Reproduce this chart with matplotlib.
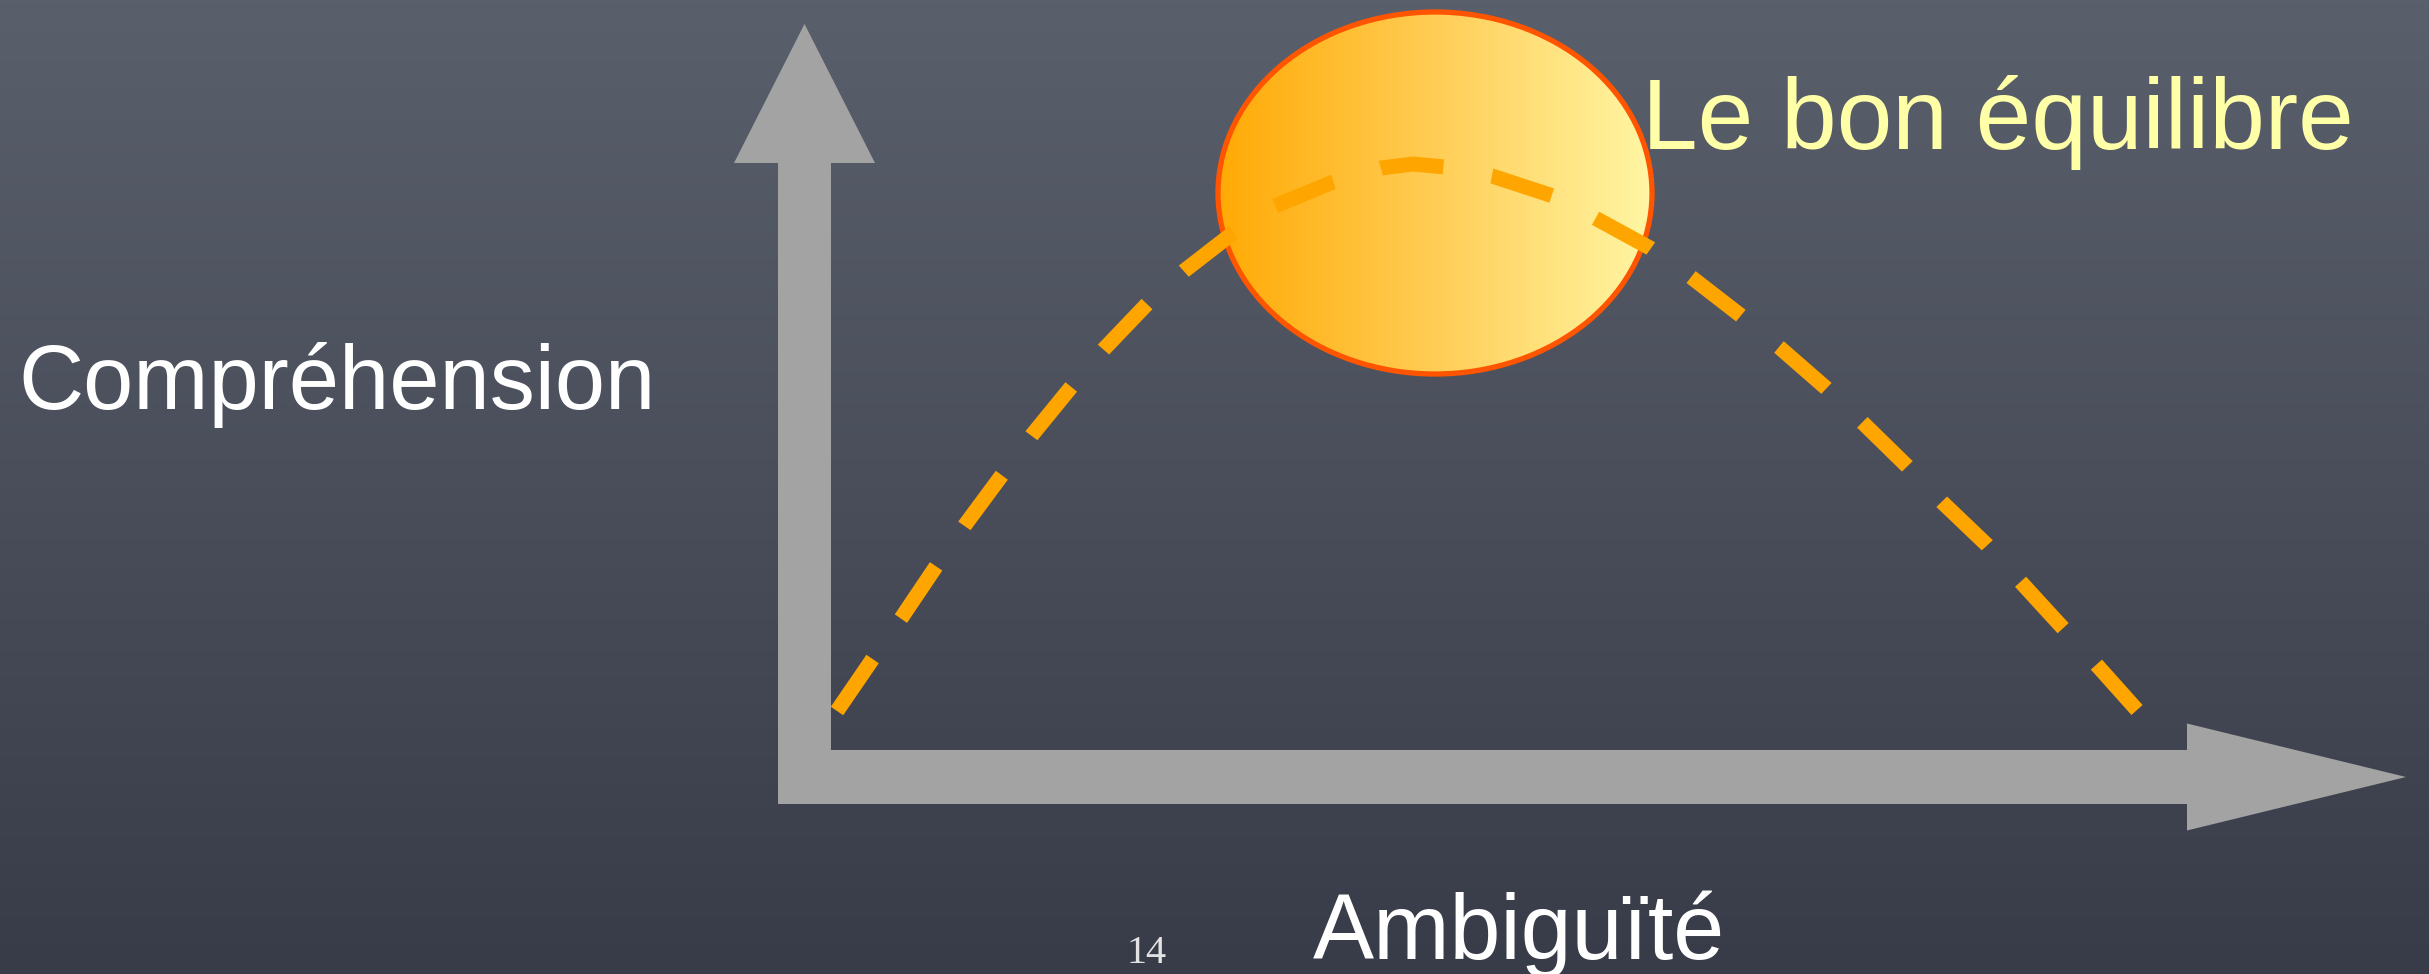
import numpy as np
import matplotlib
matplotlib.use('Agg')
import matplotlib.pyplot as plt
from matplotlib.patches import FancyArrow, Ellipse
from matplotlib.colors import LinearSegmentedColormap

# dashed curve (pixel coords, y down)
curve_x = [837, 874, 902, 937, 965, 1002, 1032, 1072, 1104, 1148, 1184, 1233,
           1275, 1333, 1381, 1413, 1445, 1492, 1553, 1595, 1650, 1691, 1740,
           1779, 1826, 1862, 1907, 1942, 1987, 2040, 2095, 2137]
curve_y = [711, 657, 617, 565, 525, 475, 435, 386, 349, 303, 271, 233,
           206, 182, 168, 164, 167, 176, 196, 218, 248, 277, 315,
           347, 388, 422, 466, 502, 545, 603, 663, 710]

# "sweet spot" ellipse
spot_center = (1435, 193)
spot_size = (434, 362)

labels = {
    'y': 'Compréhension',
    'x': 'Ambiguïté',
    'spot': 'Le bon équilibre',
    'page': '14',
}

W, H = 2429, 974
fig = plt.figure(figsize=(W / 100, H / 100), dpi=100)
ax = fig.add_axes([0, 0, 1, 1])
ax.set_xlim(0, W)
ax.set_ylim(H, 0)
ax.axis('off')

# chalkboard background
bg = LinearSegmentedColormap.from_list('bg', ['#5a5f6c', '#4a4e5b', '#383c48'])
ax.imshow(np.linspace(0, 1, 256).reshape(-1, 1), cmap=bg, aspect='auto',
          extent=(0, W, H, 0), zorder=0)

# axes arrows
grey = '#a3a3a3'
ax.add_patch(FancyArrow(804.5, 803, 0, 24 - 803, width=53, head_width=141,
                        head_length=139, length_includes_head=True,
                        color=grey, lw=0, zorder=2))
ax.add_patch(FancyArrow(778, 777, 2406 - 778, 0, width=54, head_width=107,
                        head_length=219, length_includes_head=True,
                        color=grey, lw=0, zorder=2))

# ellipse with horizontal gradient
ell = Ellipse(spot_center, spot_size[0], spot_size[1], facecolor='none',
              edgecolor='#ff5500', lw=3.8, zorder=4)
ax.add_patch(ell)
grad = LinearSegmentedColormap.from_list('g', ['#ffaa05', '#ffcd55', '#fff6a4'])
x0 = spot_center[0] - spot_size[0] / 2
y0 = spot_center[1] - spot_size[1] / 2
im = ax.imshow(np.linspace(0, 1, 256).reshape(1, -1), cmap=grad, aspect='auto',
               extent=(x0, x0 + spot_size[0], y0 + spot_size[1], y0), zorder=3)
im.set_clip_path(ell)

# dashed curve (dash ~63px, gap ~49px at 15px width)
ax.plot(curve_x, curve_y, color='#ffa500', lw=10.8, dashes=(4.2, 3.29),
        dash_capstyle='butt', dash_joinstyle='round', zorder=5)

font = 'Liberation Sans'
ax.text(1642, 149, labels['spot'], fontsize=72, family=font, color='#ffffa8',
        ha='left', va='baseline', zorder=6)
ax.text(18, 409, labels['y'], fontsize=65, family=font, color='white',
        ha='left', va='baseline', zorder=6)
ax.text(1313, 959, labels['x'], fontsize=66, family=font, color='white',
        ha='left', va='baseline', zorder=6)
ax.text(1147, 963, labels['page'], fontsize=29, family='Liberation Serif',
        color='#e2e2e2', ha='center', va='baseline', zorder=6)

fig.savefig('out.png', dpi=100)
